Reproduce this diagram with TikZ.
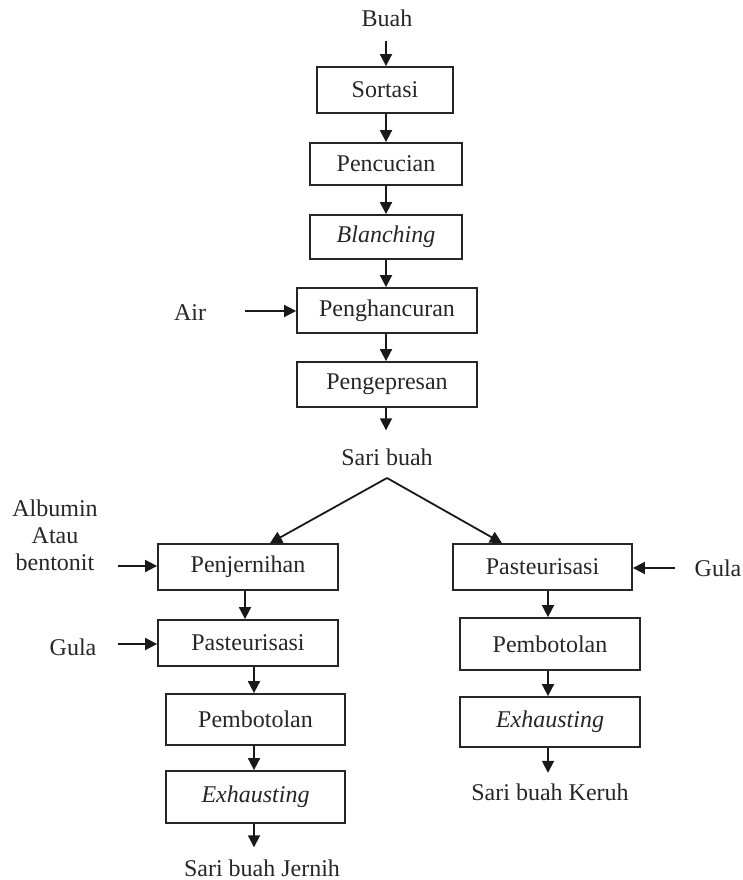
\documentclass[tikz,border=0pt]{standalone}
\usepackage{fontspec}
\setmainfont{Liberation Serif}
\usetikzlibrary{arrows.meta}
\begin{document}
\begin{tikzpicture}[x=1pt,y=-1pt,
  every node/.style={font=\fontsize{24}{27}\selectfont, text=black!85},
  box/.style={draw=black!85, line width=1.8pt, inner sep=0pt, anchor=center},
  lbl/.style={inner sep=0pt, text height=17pt, text depth=5pt, align=center},
  arr/.style={draw=black!90, line width=1.8pt, -{Triangle[length=12pt,width=12pt]}},
  ln/.style={draw=black!85, line width=1.8pt}
]
\useasboundingbox (0,0) rectangle (743,880);
% x reference coordinates
\coordinate (cx) at (386,0);
\coordinate (xa) at (245,0);
\coordinate (xb) at (254,0);
\coordinate (xr) at (548,0);
\coordinate (dl) at (270,0);
\coordinate (dr) at (502,0);

% main column
\node[lbl] (buah) at (387,20.5) {Buah};
\node[box, minimum width=136pt, minimum height=46pt] (sortasi) at (385,90) {Sortasi};
\node[box, minimum width=152pt, minimum height=42pt] (pencucian) at (386,164) {Pencucian};
\node[box, minimum width=152pt, minimum height=44pt] (blanching) at (386,237) {\itshape Blanching};
\node[box, minimum width=180pt, minimum height=45pt] (penghancuran) at (387,310.5) {Penghancuran};
\node[box, minimum width=180pt, minimum height=45pt] (pengepresan) at (387,384.5) {Pengepresan};
\node[lbl] (air) at (190,314) {Air};
\node[lbl] (sari) at (387,459.5) {Sari buah};
\coordinate (apex) at (387,478);
\coordinate (airA) at (245,311);

% left branch
\node[box, minimum width=180pt, minimum height=46pt] (penj) at (248,567) {Penjernihan};
\node[box, minimum width=180pt, minimum height=46pt] (pastL) at (248,643) {Pasteurisasi};
\node[box, minimum width=179pt, minimum height=51pt] (pembL) at (255.5,719.5) {Pembotolan};
\node[box, minimum width=179pt, minimum height=52pt] (exhL) at (255.5,797) {\itshape Exhausting};
\node[lbl] (jernih) at (262,870.5) {Sari buah Jernih};
\node[lbl] (albumin) at (55,564) {Albumin\\Atau\\bentonit};
\node[lbl] (gulaL) at (73,649) {Gula};
\coordinate (albA) at (118,566);
\coordinate (gulaLA) at (118,644);

% right branch
\node[box, minimum width=179pt, minimum height=46pt] (pastR) at (542.5,567) {Pasteurisasi};
\node[box, minimum width=180pt, minimum height=52pt] (pembR) at (550,644) {Pembotolan};
\node[box, minimum width=180pt, minimum height=50pt] (exhR) at (550,722) {\itshape Exhausting};
\node[lbl] (keruh) at (550,794) {Sari buah Keruh};
\node[lbl] (gulaR) at (718,570) {Gula};
\coordinate (gulaRA) at (675,568);

% connectors main column
\draw[arr, shorten <=9pt] (buah.south -| cx) -- (sortasi.north -| cx);
\draw[arr] (sortasi.south -| cx) -- (pencucian.north -| cx);
\draw[arr] (pencucian.south -| cx) -- (blanching.north -| cx);
\draw[arr] (blanching.south -| cx) -- (penghancuran.north -| cx);
\draw[arr] (penghancuran.south -| cx) -- (pengepresan.north -| cx);
\draw[arr, shorten >=18pt] (pengepresan.south -| cx) -- (sari.north -| cx);
\draw[arr] (airA) -- (penghancuran.west |- airA);

% split
\draw[arr] (apex) -- (penj.north -| dl);
\draw[arr] (apex) -- (pastR.north -| dr);

% left branch connectors
\draw[arr] (albA) -- (penj.west |- albA);
\draw[arr] (gulaLA) -- (pastL.west |- gulaLA);
\draw[arr] (penj.south -| xa) -- (pastL.north -| xa);
\draw[arr] (pastL.south -| xb) -- (pembL.north -| xb);
\draw[arr] (pembL.south -| xb) -- (exhL.north -| xb);
\draw[arr, shorten >=12pt] (exhL.south -| xb) -- (jernih.north -| xb);

% right branch connectors
\draw[arr] (gulaRA) -- (pastR.east |- gulaRA);
\draw[arr] (pastR.south -| xr) -- (pembR.north -| xr);
\draw[arr] (pembR.south -| xr) -- (exhR.north -| xr);
\draw[arr, shorten >=10pt] (exhR.south -| xr) -- (keruh.north -| xr);
\end{tikzpicture}
\end{document}
